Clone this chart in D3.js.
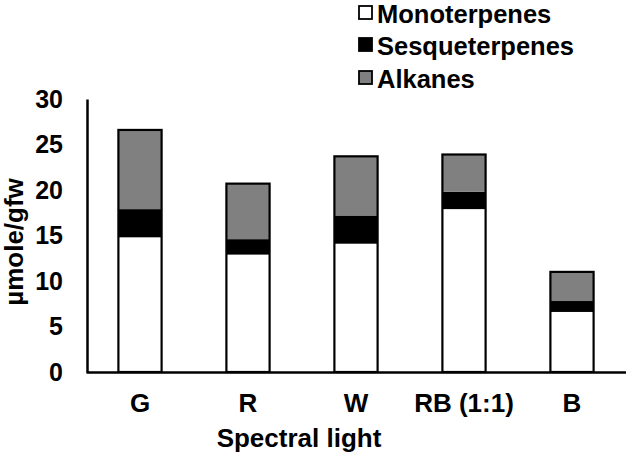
<!DOCTYPE html>
<html><head><meta charset="utf-8">
<script src="https://cdn.jsdelivr.net/npm/d3@7"></script>
<style>body{margin:0;background:#fff}svg{display:block}text{font-family:"Liberation Sans",Arial,sans-serif;font-weight:bold}</style>
</head><body><svg id="c" width="626" height="455"></svg>
<script>
const categories = ["G","R","W","RB (1:1)","B"];
const monoterpenes = [14.8, 12.9, 14.1, 17.9, 6.6];
const sesquiterpenes = [3.1, 1.7, 3.1, 1.9, 1.2];
const alkanes = [8.7, 6.1, 6.5, 4.1, 3.2];
const seriesNames = ["Monoterpenes","Sesqueterpenes","Alkanes"];
const seriesColors = ["#ffffff","#000000","#808080"];
const yTicks = [0,5,10,15,20,25,30];

const FONT = "Liberation Sans, Arial, sans-serif";
const svg = d3.select("#c");
const x = d3.scaleBand().domain(categories).range([86, 626]).paddingInner(0.6).paddingOuter(0.3);
const y = d3.scaleLinear().domain([0,30]).range([372, 99]);

const rows = categories.map((c,i)=>({cat:c, Monoterpenes:monoterpenes[i], Sesqueterpenes:sesquiterpenes[i], Alkanes:alkanes[i]}));
const stack = d3.stack().keys(seriesNames)(rows);

stack.forEach((s,si)=>{
  svg.append("g").selectAll("rect").data(s).join("rect")
    .attr("x", d=>x(d.data.cat))
    .attr("width", x.bandwidth())
    .attr("y", d=>y(d[1]))
    .attr("height", d=>y(d[0])-y(d[1]))
    .attr("fill", seriesColors[si])
    .attr("stroke","none");
});
// outline of bars
svg.append("g").selectAll("rect").data(rows).join("rect")
  .attr("x", d=>x(d.cat)).attr("width", x.bandwidth())
  .attr("y", d=>y(d.Monoterpenes+d.Sesqueterpenes+d.Alkanes))
  .attr("height", d=>y(0)-y(d.Monoterpenes+d.Sesqueterpenes+d.Alkanes))
  .attr("fill","none").attr("stroke","#000").attr("stroke-width",2.2);

// y axis
const ya = svg.append("g").attr("transform","translate(87,0)")
  .call(d3.axisLeft(y).tickValues(yTicks).tickSize(0).tickPadding(24));
ya.select(".domain").attr("stroke","#000").attr("stroke-width",2.5);
ya.selectAll("text").attr("font-size",25).attr("font-family",FONT).attr("font-weight","bold").attr("fill","#000");

// x axis
const xa = svg.append("g").attr("transform","translate(0,372)")
  .call(d3.axisBottom(x).tickSize(0).tickPadding(22));
xa.select(".domain").attr("stroke","#000").attr("stroke-width",2.5);
xa.selectAll("text").attr("font-size",26).attr("font-family",FONT).attr("font-weight","bold").attr("fill","#000");

// axis titles
svg.append("text").attr("transform","translate(23,242) rotate(-90)")
  .attr("text-anchor","middle").attr("font-size",26).text("µmole/gfw");
svg.append("text").attr("x",299).attr("y",447)
  .attr("text-anchor","middle").attr("font-size",26).text("Spectral light");

// legend
const lg = svg.append("g");
const legBase = [23, 55, 88];
seriesNames.forEach((n,i)=>{
  lg.append("rect").attr("x",359).attr("y",legBase[i]-17).attr("width",13).attr("height",13)
    .attr("fill",seriesColors[i]).attr("stroke","#000").attr("stroke-width",1.8);
  lg.append("text").attr("x",377).attr("y",legBase[i]).attr("font-size",25.5).text(n);
});
</script></body></html>
